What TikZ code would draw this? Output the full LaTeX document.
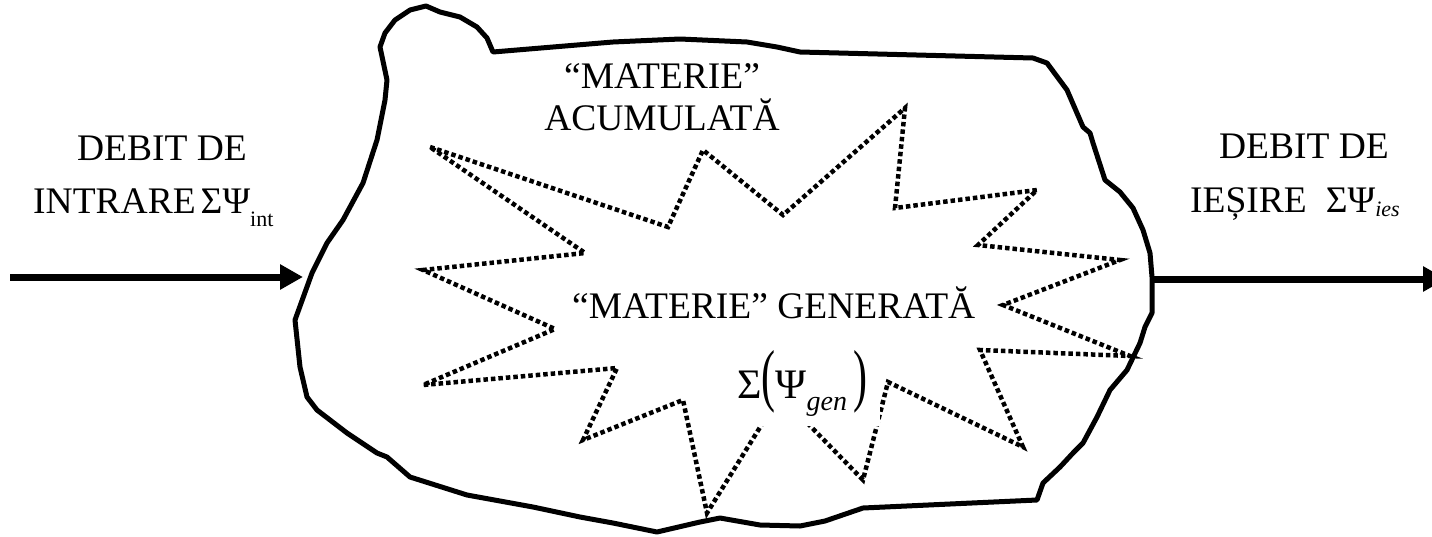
\documentclass[tikz,border=0pt]{standalone}
\usepackage{fontspec}
\setmainfont{Liberation Serif}
\usepackage{graphicx}
\usetikzlibrary{arrows.meta}
\begin{document}
\begin{tikzpicture}[x=1pt,y=-1pt,
  blob/.style={line width=5pt, line join=round},
  burst/.style={line width=4.5pt, dash pattern=on 4.5pt off 3pt, line join=miter},
  flow/.style={line width=7pt, -{Triangle[length=23pt,width=24pt]}},
  lbl/.style={inner sep=0pt, font=\fontsize{37.5}{45}\selectfont}
]
\useasboundingbox (0,0) rectangle (1432,536);

% system boundary (hand-drawn blob)
\draw[blob] (380,47) -- (385,33) -- (395,20) -- (410,10) -- (426,6) -- (440,12) -- (460,17) -- (477,27) -- (487,38) -- (493,52)
 -- (613,42) -- (680,39) -- (747,42) -- (777,47) -- (800,52) -- (1033,58) -- (1047,63) -- (1067,90) -- (1083,127) -- (1090,133)
 -- (1093,143) -- (1105,180) -- (1120,192) -- (1133,208) -- (1143,230) -- (1150,253) -- (1152,277) -- (1152,313) -- (1145,327)
 -- (1140,343) -- (1127,370) -- (1110,390) -- (1097,417) -- (1083,443) -- (1073,453) -- (1060,467) -- (1043,483) -- (1037,500)
 -- (863,508) -- (825,521) -- (800,526) -- (760,525) -- (720,518) -- (700,522) -- (657,532) -- (613,523) -- (580,517) -- (533,507)
 -- (467,495) -- (410,477) -- (387,457) -- (377,453) -- (347,433) -- (317,410) -- (307,397) -- (300,367) -- (295,320)
 -- (312,273) -- (320,257) -- (327,243) -- (343,220) -- (363,183) -- (377,140) -- (385,100) -- (387,80) -- cycle;

% generation burst (dotted star)
\draw[burst] (430,147) -- (668,227) -- (703,150) -- (783,215) -- (905,108) -- (895,208) -- (1037,190) -- (978,245)
 -- (1120,260) -- (1003,305) -- (1130,356) -- (980,350) -- (1023,447) -- (888,382) -- (863,480) -- (780,395)
 -- (707,513) -- (683,400) -- (583,440) -- (617,368) -- (423,385) -- (555,329) -- (423,270) -- (585,253) -- cycle;

% flows
\coordinate (inA) at (10,277);
\coordinate (inB) at (303,277);
\coordinate (outA) at (1152,279);
\coordinate (outB) at (1446,279);
\draw[flow] (inA) -- (inB);
\draw[flow] (outA) -- (outB);

% labels
\node[lbl, anchor=base] (in1) at (162,160) {DEBIT DE};
\node[lbl, anchor=base west] (in2) at (33,213) {INTRARE\hspace{5pt}ΣΨ\raisebox{-13pt}{\fontsize{22}{24}\selectfont int}};
\node[lbl, anchor=base] (out1) at (1304,158) {DEBIT DE};
\node[lbl, anchor=base west] (out2) at (1190,212) {IEȘIRE\hspace{19pt}ΣΨ\raisebox{-4pt}{\fontsize{22}{24}\selectfont\itshape ies}};
\node[lbl, anchor=base] (acc1) at (662,88) {“MATERIE”};
\node[lbl, anchor=base] (acc2) at (662,130) {ACUMULATĂ};
\node[lbl, anchor=base west] (gen1) at (572,318) {“MATERIE” GENERATĂ};
\node[lbl, anchor=base west, fill=white, inner xsep=13pt, inner ysep=10pt, font=\fontsize{42}{48}\selectfont] (gen2) at (724,398)
 {Σ\scalebox{1}[1.65]{(}Ψ\raisebox{-12pt}{\fontsize{28}{30}\selectfont\itshape gen}\hspace{6pt}\scalebox{1}[1.65]{)}};
\end{tikzpicture}
\end{document}
